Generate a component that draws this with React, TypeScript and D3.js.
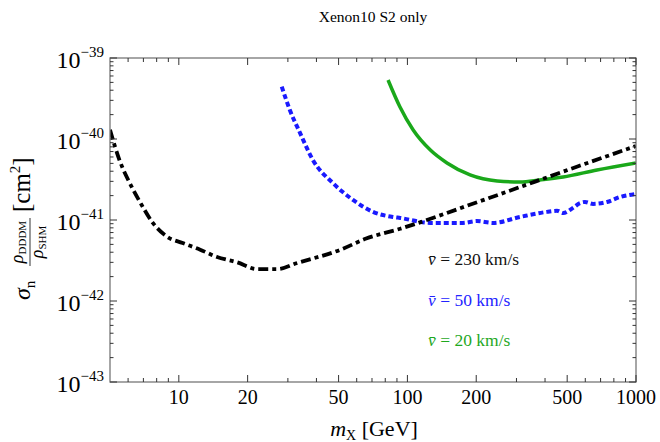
import React from 'react'
import * as d3 from 'd3'

// v = 230 km/s  (mass in GeV, cross section in cm^2)
const blackMass = [5, 5.5, 6.1, 6.8, 7.7, 8.9, 10.4, 12.4, 14.7, 18, 22, 27, 33, 51, 66, 93, 207, 570, 1000]
const blackSigma = [1.3e-40, 5.5e-41, 2.86e-41, 1.62e-41, 9.2e-42, 6.2e-42, 5.2e-42, 4.3e-42, 3.5e-42, 3.0e-42, 2.48e-42, 2.48e-42, 2.95e-42, 4.3e-42, 5.9e-42, 7.8e-42, 1.7e-41, 4.7e-41, 8.2e-41]

// v = 50 km/s
const blueMass = [28.2, 30.6, 33.9, 38.6, 47.2, 57.8, 70.7, 86.4, 93, 126, 175, 201, 237, 311, 408, 451, 480, 530, 569, 598, 649, 747, 851, 1000]
const blueSigma = [4.43e-40, 2.28e-40, 1.19e-40, 5.5e-41, 2.86e-41, 1.77e-41, 1.26e-41, 1.09e-41, 1.06e-41, 9.2e-42, 9.2e-42, 9.7e-42, 9.2e-42, 1.09e-41, 1.26e-41, 1.30e-41, 1.22e-41, 1.41e-41, 1.62e-41, 1.67e-41, 1.58e-41, 1.67e-41, 1.92e-41, 2.1e-41]

// v = 20 km/s
const greenMass = [82.3, 92.8, 106, 126, 149, 188, 247, 311, 380, 480, 675, 1000]
const greenSigma = [5.35e-40, 2.48e-40, 1.29e-40, 7.3e-41, 5.06e-41, 3.6e-41, 3.03e-41, 2.94e-41, 3.12e-41, 3.4e-41, 4.14e-41, 5.06e-41]

const xMajor = [10, 20, 50, 100, 200, 500, 1000]
const xMinor = [6, 7, 8, 9, 30, 40, 60, 70, 80, 90, 300, 400, 600, 700, 800, 900]
const yExponents = [-43, -42, -41, -40, -39]

const legend = [
  { label: '230 km/s', color: '#111111' },
  { label: '50 km/s', color: '#2323ff' },
  { label: '20 km/s', color: '#1fa81f' }
]

const font = '"Liberation Serif", "Times New Roman", serif'

export default function App() {
  const width = 660, height = 442
  const left = 110, right = 636, top = 58, bottom = 382

  const x = d3.scaleLog().domain([5, 1000]).range([left, right])
  const y = d3.scaleLog().domain([1e-43, 1e-39]).range([bottom, top])

  const line = d3.line<[number, number]>()
    .x(d => x(d[0]))
    .y(d => y(d[1]))
    .curve(d3.curveMonotoneX)

  const pts = (m: number[], s: number[]) => m.map((v, i) => [v, s[i]] as [number, number])

  const yMinor: number[] = []
  yExponents.slice(0, -1).forEach(e => {
    for (let k = 2; k <= 9; k++) yMinor.push(k * Math.pow(10, e))
  })

  const tickColor = '#333'
  const frameColor = '#777'

  return (
    <svg width={width} height={height} style={{ position: 'absolute', left: 0, top: 0 }} fontFamily={font}>
      <rect width={width} height={height} fill="#fff" />
      <text x={373} y={22} textAnchor="middle" fontSize={15.5}>Xenon10 S2 only</text>

      <g clipPath="url(#clip)">
        <clipPath id="clip"><rect x={left} y={top} width={right - left} height={bottom - top} /></clipPath>
        <path d={line(pts(greenMass, greenSigma)) || ''} fill="none" stroke="#1aa81a" strokeWidth={3.5} />
        <path d={line(pts(blueMass, blueSigma)) || ''} fill="none" stroke="#1a1aff" strokeWidth={4} strokeDasharray="5,3" />
        <path d={line(pts(blackMass, blackSigma)) || ''} fill="none" stroke="#000" strokeWidth={3.8} strokeDasharray="10,4,4,4" />
      </g>

      {/* frame */}
      <rect x={left} y={top} width={right - left} height={bottom - top} fill="none" stroke={frameColor} strokeWidth={1.3} />

      {/* x ticks */}
      {xMajor.map(v => (
        <g key={'xM' + v}>
          <line x1={x(v)} x2={x(v)} y1={bottom} y2={bottom - 7} stroke={tickColor} />
          <line x1={x(v)} x2={x(v)} y1={top} y2={top + 7} stroke={tickColor} />
          <text x={x(v)} y={404} textAnchor="middle" fontSize={20}>{v}</text>
        </g>
      ))}
      {xMinor.map(v => (
        <g key={'xm' + v}>
          <line x1={x(v)} x2={x(v)} y1={bottom} y2={bottom - 4} stroke={tickColor} />
          <line x1={x(v)} x2={x(v)} y1={top} y2={top + 4} stroke={tickColor} />
        </g>
      ))}

      {/* y ticks */}
      {yExponents.map(e => {
        const ty = y(Math.pow(10, e))
        return (
          <g key={'yM' + e}>
            <line x1={left} x2={left + 7} y1={ty} y2={ty} stroke={tickColor} />
            <line x1={right} x2={right - 7} y1={ty} y2={ty} stroke={tickColor} />
            <text x={104} y={ty + 10} textAnchor="end" fontSize={24}>10<tspan dy={-11} fontSize={15}>{'\u2212' + (-e)}</tspan></text>
          </g>
        )
      })}
      {yMinor.map((v, i) => (
        <g key={'ym' + i}>
          <line x1={left} x2={left + 3.5} y1={y(v)} y2={y(v)} stroke={tickColor} />
          <line x1={right} x2={right - 3.5} y1={y(v)} y2={y(v)} stroke={tickColor} />
        </g>
      ))}

      {/* x label */}
      <text x={374} y={436} textAnchor="middle" fontSize={22}>
        <tspan fontStyle="italic">m</tspan><tspan fontSize={14} dy={4}>X</tspan><tspan dy={-4}> [GeV]</tspan>
      </text>

      {/* y label */}
      <g transform="translate(30,220) rotate(-90)">
        <text x={-80} y={0} fontSize={24}>
          <tspan fontStyle="italic">σ</tspan><tspan fontSize={15} dy={5}>n</tspan>
        </text>
        <text x={-22} y={-7} textAnchor="middle" fontSize={18}>
          <tspan fontStyle="italic">ρ</tspan><tspan fontSize={11} dy={3}>DDDM</tspan>
        </text>
        <line x1={-46} x2={2} y1={0} y2={0} stroke="#000" strokeWidth={0.8} />
        <text x={-22} y={13} textAnchor="middle" fontSize={18}>
          <tspan fontStyle="italic">ρ</tspan><tspan fontSize={11} dy={3}>SHM</tspan>
        </text>
        <text x={8} y={0} fontSize={25}>
          [cm<tspan fontSize={15} dy={-10}>2</tspan><tspan dy={10}>]</tspan>
        </text>
      </g>

      {/* legend */}
      {legend.map((d, i) => (
        <text key={d.label} x={428} y={265 + i * 40.5} fontSize={17.5} fill={d.color}>
          <tspan fontStyle="italic">{'v\u0304'}</tspan> = {d.label}
        </text>
      ))}
    </svg>
  )
}
